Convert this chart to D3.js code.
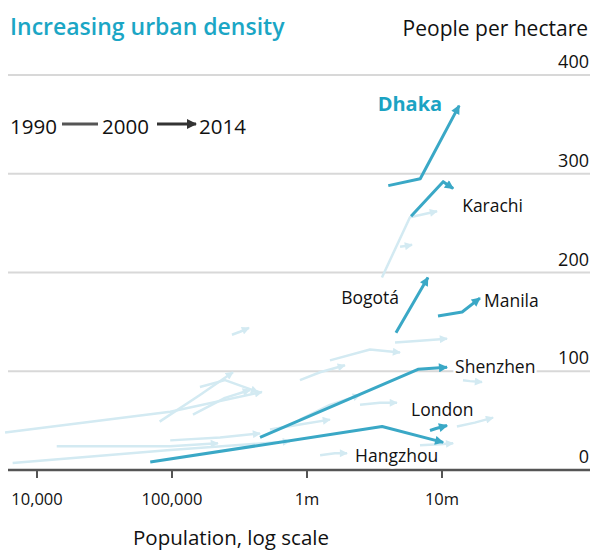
<!DOCTYPE html>
<html>
<head>
<meta charset="utf-8">
<script src="https://cdn.jsdelivr.net/npm/d3@7"></script>
<style>
body { margin: 0; background: #fff; }
svg { display: block; font-family: "Open Sans", "Noto Sans", sans-serif; }
</style>
</head>
<body>
<div id="app"></div>
<script>
const years = ['1990', '2000', '2014'];
const yTicks = [0, 100, 200, 300, 400];
const xTicks = [1e4, 1e5, 1e6, 1e7];
const xTickLabels = ['10,000', '100,000', '1m', '10m'];

// highlighted cities, population in millions / people per hectare, for 1990, 2000, 2014
const cityNames = ['Dhaka', 'Karachi', 'Bogotá', 'Manila', 'Shenzhen', 'London', 'Hangzhou'];
const cityPop = [
	[4.0, 6.9, 13.4],
	[5.9, 10.2, 12.1],
	[4.56, 6.0, 7.87],
	[9.34, 14.1, 19.1],
	[0.449, 6.64, 10.9],
	[8.15, 9.03, 10.9],
	[0.069, 3.6, 10.2],
];
const cityDensity = [
	[288, 295, 369],
	[257, 292, 285],
	[139, 167, 195],
	[156, 160, 174],
	[33, 102, 104],
	[40, 42, 45],
	[8, 44, 28],
];

// the other, faded cities
const otherPop = [
	[0.0058, 0.097, 0.464],
	[0.014, 0.097, 0.219],
	[0.0066, 0.092, 0.748],
	[0.081, 0.161, 0.283],
	[0.143, 0.247, 0.378],
	[0.278, 0.319, 0.372],
	[0.161, 0.247, 0.434],
	[1.48, 2.93, 4.89],
	[4.49, 6.87, 10.9],
	[14.3, 16.1, 19.8],
	[12.9, 17.5, 23.9],
	[6.87, 9.66, 12.1],
	[1.25, 1.61, 1.98],
	[2.47, 3.47, 4.64],
	[3.59, 5.79, 9.19],
	[4.89, 5.5, 6.0],
	[0.887, 1.48, 2.47],
	[0.532, 0.887, 1.48],
	[0.887, 1.25, 1.91],
	[0.097, 0.227, 0.449],
];
const otherDensity = [
	[38, 59, 79],
	[24, 24, 27],
	[7, 20, 29],
	[49, 76, 99],
	[56, 73, 81],
	[137, 140, 144],
	[84, 91, 79],
	[111, 122, 119],
	[129, 131, 133],
	[91, 90, 89],
	[44, 48, 53],
	[25, 26, 27],
	[15, 17, 17],
	[66, 68, 68],
	[195, 256, 262],
	[226, 227, 228],
	[51, 66, 76],
	[41, 46, 51],
	[91, 99, 106],
	[30, 33, 37],
];

const width = 593;
const height = 554;
const teal = '#3aa8c6';
const faded = '#d3eaf2';

const x = d3.scaleLog().domain([1e4, 1e7]).range([37, 442]);
const y = d3.scaleLinear().domain([0, 400]).range([470, 75]);
const popX = (m) => x(m * 1e6);

const svg = d3.select('#app').append('svg')
	.attr('width', width)
	.attr('height', height);

const defs = svg.append('defs');
const addArrow = (id, color, w, h) => {
	defs.append('marker')
		.attr('id', id)
		.attr('viewBox', '0 0 10 10')
		.attr('refX', 9)
		.attr('refY', 5)
		.attr('markerWidth', w)
		.attr('markerHeight', h)
		.attr('markerUnits', 'userSpaceOnUse')
		.attr('orient', 'auto')
		.append('path')
		.attr('d', 'M0,0L10,5L0,10Z')
		.attr('fill', color);
};
addArrow('arrow-main', teal, 10, 9);
addArrow('arrow-faded', faded, 9, 8);
addArrow('arrow-key', '#333', 11, 10);

// gridlines
svg.append('g')
	.selectAll('line')
	.data(yTicks.filter((d) => d > 0))
	.enter()
	.append('line')
	.attr('x1', 8)
	.attr('x2', 590)
	.attr('y1', (d) => y(d))
	.attr('y2', (d) => y(d))
	.attr('stroke', '#d8d8d8')
	.attr('stroke-width', 2);

svg.append('g')
	.selectAll('text')
	.data(yTicks)
	.enter()
	.append('text')
	.attr('x', 589)
	.attr('y', (d) => y(d) - 7)
	.attr('text-anchor', 'end')
	.attr('font-size', 18)
	.attr('fill', '#111')
	.text((d) => d);

const line = d3.line()
	.x((d) => popX(d[0]))
	.y((d) => y(d[1]));

const toPoints = (pops, dens) => pops.map((p, i) => [p, dens[i]]);

// faded cities
svg.append('g')
	.selectAll('path')
	.data(otherPop.map((p, i) => toPoints(p, otherDensity[i])))
	.enter()
	.append('path')
	.attr('d', line)
	.attr('fill', 'none')
	.attr('stroke', faded)
	.attr('stroke-width', 2.5)
	.attr('stroke-linejoin', 'round')
	.attr('marker-end', 'url(#arrow-faded)');

// x axis
svg.append('line')
	.attr('x1', 8)
	.attr('x2', 590)
	.attr('y1', y(0))
	.attr('y2', y(0))
	.attr('stroke', '#555')
	.attr('stroke-width', 2.5);

const xAxis = svg.append('g');
xAxis.selectAll('line')
	.data(xTicks)
	.enter()
	.append('line')
	.attr('x1', (d) => x(d))
	.attr('x2', (d) => x(d))
	.attr('y1', y(0))
	.attr('y2', y(0) + 8)
	.attr('stroke', '#555')
	.attr('stroke-width', 2);
xAxis.selectAll('text')
	.data(xTicks)
	.enter()
	.append('text')
	.attr('x', (d) => x(d))
	.attr('y', 505)
	.attr('text-anchor', 'middle')
	.attr('font-size', 16.5)
	.attr('fill', '#111')
	.text((d, i) => xTickLabels[i]);

svg.append('text')
	.attr('x', 231)
	.attr('y', 545)
	.attr('text-anchor', 'middle')
	.attr('font-size', 20.5)
	.attr('fill', '#111')
	.text('Population, log scale');

// highlighted cities
const cities = cityNames.map((name, i) => ({name, points: toPoints(cityPop[i], cityDensity[i])}));

svg.append('g')
	.selectAll('path')
	.data(cities)
	.enter()
	.append('path')
	.attr('d', (d) => line(d.points))
	.attr('fill', 'none')
	.attr('stroke', teal)
	.attr('stroke-width', 3)
	.attr('stroke-linejoin', 'round')
	.attr('marker-end', 'url(#arrow-main)');

// label offsets from the 2014 point
const labelOffset = {
	Dhaka: [-17, 5, 'end'],
	Karachi: [9, 23, 'start'],
	Bogotá: [-29, 27, 'end'],
	Manila: [4, 9, 'start'],
	Shenzhen: [8, 6, 'start'],
	London: [-36, -10, 'start'],
	Hangzhou: [-5, 20, 'end'],
};

svg.append('g')
	.selectAll('text')
	.data(cities)
	.enter()
	.append('text')
	.attr('x', (d) => popX(d.points[2][0]) + labelOffset[d.name][0])
	.attr('y', (d) => y(d.points[2][1]) + labelOffset[d.name][1])
	.attr('text-anchor', (d) => labelOffset[d.name][2])
	.attr('font-size', (d) => d.name === 'Dhaka' ? 20 : 17.5)
	.attr('font-weight', (d) => d.name === 'Dhaka' ? 700 : 400)
	.attr('fill', (d) => d.name === 'Dhaka' ? '#1ba3c3' : '#111')
	.attr('stroke', '#fff')
	.attr('stroke-width', 5)
	.attr('paint-order', 'stroke')
	.text((d) => d.name);

// title
svg.append('text')
	.attr('x', 10)
	.attr('y', 35)
	.attr('font-size', 23)
	.attr('font-weight', 600)
	.attr('fill', '#1ba6c5')
	.text('Increasing urban density');

svg.append('text')
	.attr('x', 588)
	.attr('y', 36)
	.attr('text-anchor', 'end')
	.attr('font-size', 21)
	.attr('fill', '#111')
	.text('People per hectare');

// key
const key = svg.append('g').attr('font-size', 20.5).attr('fill', '#111');
const keyX = [10, 102, 199];
key.selectAll('text')
	.data(years)
	.enter()
	.append('text')
	.attr('x', (d, i) => keyX[i])
	.attr('y', 134)
	.text((d) => d);
key.append('line')
	.attr('x1', 62).attr('x2', 98)
	.attr('y1', 124).attr('y2', 124)
	.attr('stroke', '#555')
	.attr('stroke-width', 3);
key.append('line')
	.attr('x1', 157).attr('x2', 196)
	.attr('y1', 124).attr('y2', 124)
	.attr('stroke', '#333')
	.attr('stroke-width', 3)
	.attr('marker-end', 'url(#arrow-key)');
</script>
</body>
</html>
